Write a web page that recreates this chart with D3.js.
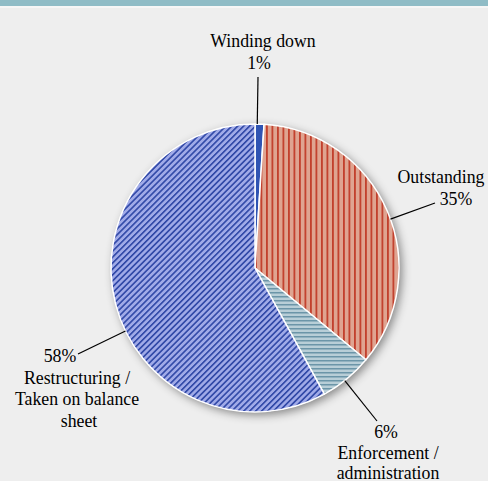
<!DOCTYPE html>
<html>
<head>
<meta charset="utf-8">
<script src="https://cdn.jsdelivr.net/npm/d3@7"></script>
<style>
  body { margin: 0; background: #eeeeee; }
  svg { display: block; }
  text { font-family: "Liberation Serif", "Times New Roman", serif; font-size: 17.8px; fill: #000; }
</style>
</head>
<body>
<svg id="chart" width="488" height="481"></svg>
<script>
// Data
const categories = ['Winding down', 'Outstanding', 'Enforcement / administration', 'Restructuring / Taken on balance sheet'];
const shares = [1, 35, 6, 58];
const labelLines = [
    ['Winding down', '1%'],
    ['Outstanding', '35%'],
    ['6%', 'Enforcement /', 'administration'],
    ['58%', 'Restructuring /', 'Taken on balance', 'sheet']
];

// Layout
const width = 488, height = 481;
const cx = 255, cy = 268, radius = 144;
const lineHeight = 21.5;

// label placement: x of each line, baseline of first line, leader end point, line spacing
const labelLayout = [
    { xs: [263, 259], y: 47, lead: [258, 77], lh: lineHeight },
    { xs: [441, 456], y: 183, lead: [435, 203], lh: lineHeight },
    { xs: [386, 388, 388], y: 438, lead: [377, 421], lh: 20.5 },
    { xs: [60, 77, 77, 79], y: 362, lead: [78, 354], lh: lineHeight }
];

const svg = d3.select('#chart');
const defs = svg.append('defs');

// background
svg.append('rect').attr('width', width).attr('height', height).attr('fill', '#eeeeee');
svg.append('rect').attr('width', width).attr('height', 6).attr('fill', '#8fbcc6');
svg.append('rect').attr('y', 6).attr('width', width).attr('height', 2).attr('fill', '#f6f6f6');

// shadow
const shadow = defs.append('filter').attr('id', 'shadow')
    .attr('x', '-20%').attr('y', '-20%').attr('width', '140%').attr('height', '140%');
shadow.append('feDropShadow')
    .attr('dx', 3).attr('dy', 3).attr('stdDeviation', 5)
    .attr('flood-color', '#000').attr('flood-opacity', 0.45);

// patterns
function stripePattern(id, base, stroke, size, lineW, angle) {
    const p = defs.append('pattern').attr('id', id)
        .attr('patternUnits', 'userSpaceOnUse')
        .attr('width', size).attr('height', size)
        .attr('patternTransform', `rotate(${angle})`);
    p.append('rect').attr('width', size).attr('height', size).attr('fill', base);
    p.append('rect').attr('x', 0).attr('y', 0).attr('width', lineW).attr('height', size).attr('fill', stroke);
}
stripePattern('pOut', '#dfa491', '#c2402d', 5.5, 1.8, 0);
stripePattern('pEnf', '#b8ced7', '#6b95a8', 4, 1.5, 90);
stripePattern('pRes', '#a0aae8', '#2f47a6', 4.2, 1.6, 45);

const fills = ['#2f54b3', 'url(#pOut)', 'url(#pEnf)', 'url(#pRes)'];

const pie = d3.pie().sort(null).value(d => d)(shares);
const arc = d3.arc().innerRadius(0).outerRadius(radius);

const g = svg.append('g').attr('transform', `translate(${cx},${cy})`);

g.append('circle').attr('r', radius).attr('fill', '#ddd').attr('filter', 'url(#shadow)');

g.selectAll('path.slice')
    .data(pie)
    .enter()
    .append('path')
    .attr('class', 'slice')
    .attr('d', arc)
    .attr('fill', (d, i) => fills[i])
    .attr('stroke', '#fff')
    .attr('stroke-width', 1.5)
    .attr('stroke-linejoin', 'round');

// leader lines and labels
labelLayout.forEach((l, i) => {
    const dx = l.lead[0] - cx, dy = l.lead[1] - cy;
    const len = Math.sqrt(dx * dx + dy * dy);
    svg.append('line')
        .attr('x1', l.lead[0]).attr('y1', l.lead[1])
        .attr('x2', cx + dx / len * radius).attr('y2', cy + dy / len * radius)
        .attr('stroke', '#000').attr('stroke-width', 1.2);

    const t = svg.append('text').attr('text-anchor', 'middle');
    labelLines[i].forEach((line, j) => {
        t.append('tspan')
            .attr('x', l.xs[j])
            .attr('y', l.y + j * l.lh)
            .text(line);
    });
});
</script>
</body>
</html>
